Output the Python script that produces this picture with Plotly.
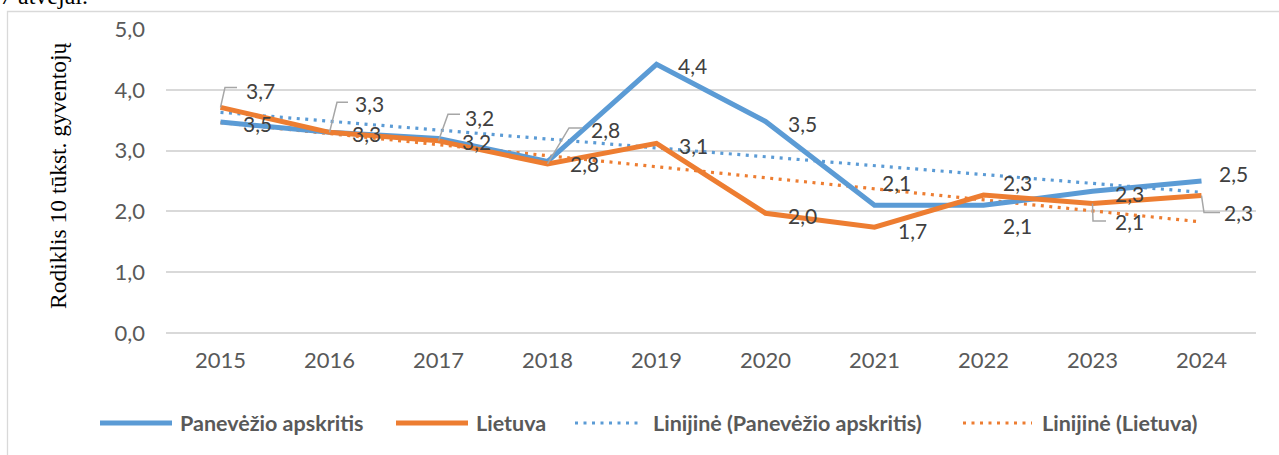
import numpy as np
import plotly.graph_objects as go

# ---------------- data ----------------
years = ["2015", "2016", "2017", "2018", "2019", "2020", "2021", "2022", "2023", "2024"]
panevezys = [3.47, 3.30, 3.20, 2.82, 4.42, 3.48, 2.10, 2.10, 2.33, 2.50]
lietuva = [3.71, 3.30, 3.16, 2.78, 3.12, 1.97, 1.74, 2.27, 2.13, 2.26]
y_ticks = [0, 1, 2, 3, 4, 5]

series_names = ["Panevėžio apskritis", "Lietuva",
                "Linijinė (Panevėžio apskritis)", "Linijinė (Lietuva)"]
y_title = "Rodiklis 10 tūkst. gyventojų"
top_text = "7 atvejai."

# ---------------- styles / label placement (pixels) ----------------
BLUE = "#5B9BD5"
ORANGE = "#ED7D31"
GRID = "#D9D9D9"
TICK = "#595959"
LBL = "#404040"
LEADER = "#A6A6A6"
FONT = "Lato"

# label offsets from point (dx right, dy down) in px
pan_off = [(37, 1), (37, 1), (38, 3), (37, 2), (36, 1), (37, 2), (22, -23), (34, 20), (37, 2), (32, -8)]
lt_off = [(40, -17), (40, -29), (41, -23), (58, -34), (37, 2), (37, 2), (38, 3), (34, -12), (37, 18), (37, 17)]
# leader lines for Lietuva labels: index -> list of relative points (dx, dy down)
lt_leaders = {
    0: [(0, 0), (4.5, -20), (16.5, -20)],
    1: [(0, 0), (7.5, -30), (18.5, -30)],
    2: [(0, 0), (9.5, -26.5), (21.5, -26.5)],
    3: [(0, 0), (21.5, -36), (34.5, -36)],
    8: [(0, 0), (0.5, 17.5), (13.5, 17.5)],
    9: [(0, 0), (2.5, 17), (18.5, 17)],
}

W, H = 1279, 455
ML, MR, MT, MB = 166, 23, 29, 122
PW, PH = W - ML - MR, H - MT - MB


def px(x):
    return (x - ML) / PW


def py(y):
    return (H - MB - y) / PH


# trend lines (linear least squares, as Excel's linear trendline)
idx = np.arange(len(years))
pan_fit = np.polyval(np.polyfit(idx, panevezys, 1), idx)
lt_fit = np.polyval(np.polyfit(idx, lietuva, 1), idx)

DOT = "3px,5.5px"
fig = go.Figure()
fig.add_trace(go.Scatter(x=years, y=pan_fit, mode="lines", showlegend=False,
                         line=dict(color=BLUE, width=3.2, dash=DOT), hoverinfo="skip"))
fig.add_trace(go.Scatter(x=years, y=lt_fit, mode="lines", showlegend=False,
                         line=dict(color=ORANGE, width=3.2, dash=DOT), hoverinfo="skip"))
fig.add_trace(go.Scatter(x=years, y=panevezys, mode="lines", name=series_names[0], showlegend=False,
                         line=dict(color=BLUE, width=5)))
fig.add_trace(go.Scatter(x=years, y=lietuva, mode="lines", name=series_names[1], showlegend=False,
                         line=dict(color=ORANGE, width=5)))


def fmt(v):
    return f"{v:.1f}".replace(".", ",")


annotations = []
shapes = []
for i in range(len(years)):
    for vals, offs in ((panevezys, pan_off), (lietuva, lt_off)):
        dx, dy = offs[i]
        annotations.append(dict(x=i, y=vals[i], xref="x", yref="y", text=fmt(vals[i]),
                                showarrow=False, xshift=dx, yshift=-dy,
                                xanchor="center", yanchor="middle",
                                font=dict(family=FONT, size=21, color=LBL)))

for i, pts in lt_leaders.items():
    path = "M" + " L".join(f"{dx},{-dy}" for dx, dy in pts)
    shapes.append(dict(type="path", xref="x", yref="y", xsizemode="pixel", ysizemode="pixel",
                       xanchor=i, yanchor=lietuva[i], path=path,
                       line=dict(color=LEADER, width=1.5), layer="above"))

# outer chart border
shapes.append(dict(type="rect", xref="paper", yref="paper", x0=px(7.5), x1=px(1300),
                   y0=py(480), y1=py(11.5), line=dict(color=GRID, width=1.3), layer="below"))

# custom legend
leg_y = py(423)
legend_items = [
    (100, 172, BLUE, "solid", 5, 178, series_names[0]),
    (396, 468, ORANGE, "solid", 5, 474, series_names[1]),
    (575, 643, BLUE, DOT, 3.2, 651, series_names[2]),
    (963, 1032, ORANGE, DOT, 3.2, 1040, series_names[3]),
]
for x0, x1, col, dash, wd, tx, name in legend_items:
    shapes.append(dict(type="line", xref="paper", yref="paper", x0=px(x0), x1=px(x1),
                       y0=leg_y, y1=leg_y, line=dict(color=col, width=wd, dash=dash)))
    annotations.append(dict(x=px(tx), y=leg_y, xref="paper", yref="paper", text=f"<b>{name}</b>",
                            showarrow=False, xanchor="left", yanchor="middle",
                            font=dict(family=FONT, size=21.5, color=TICK)))

# y axis title
annotations.append(dict(x=px(58), y=py(176), xref="paper", yref="paper", text=y_title,
                        showarrow=False, textangle=-90, xanchor="center", yanchor="middle",
                        font=dict(family="Liberation Serif", size=23.5, color="#000000")))
# cut-off text at the very top (tail of a preceding paragraph)
annotations.append(dict(x=px(-2), y=py(-4), xref="paper", yref="paper", text=top_text,
                        showarrow=False, xanchor="left", yanchor="middle",
                        font=dict(family="Liberation Serif", size=24, color="#000000")))

fig.update_layout(
    width=W, height=H,
    margin=dict(l=ML, r=MR, t=MT, b=MB),
    paper_bgcolor="white", plot_bgcolor="white",
    separators=", ",
    showlegend=False,
    hovermode=False,
    annotations=annotations, shapes=shapes,
    xaxis=dict(type="category", showgrid=False, showline=False, zeroline=False,
               ticks="", tickfont=dict(family=FONT, size=22, color=TICK),
               ticklabelstandoff=12, range=[-0.5, len(years) - 0.5]),
    yaxis=dict(range=[0, 5], tickvals=y_ticks, tickformat=".1f", showgrid=True,
               gridcolor=GRID, gridwidth=1.5, zeroline=True, zerolinecolor=GRID, zerolinewidth=1.5,
               showline=False, ticks="", tickfont=dict(family=FONT, size=22, color=TICK),
               ticklabelstandoff=20),
)

fig.write_html("out.html",
               config={"displayModeBar": False},
               post_script="document.body.style.margin='0';document.body.style.padding='0';")
